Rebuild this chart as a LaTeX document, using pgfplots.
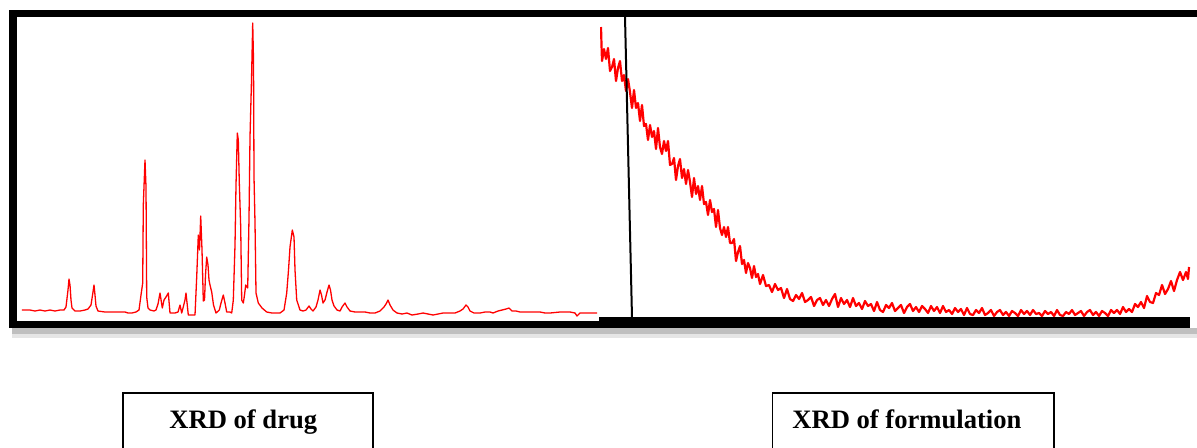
\documentclass[border=0pt]{standalone}
\usepackage{fontspec}
\setmainfont{Liberation Serif}
\usepackage{pgfplots}
\pgfplotsset{compat=1.18}

% drug pattern, read off in picture units (x, y from the top)
\pgfplotstableread{
x y
22 310
30 310
35 311
40 310
45 311
50 310
55 311
60 310
64 310
66 307
68 290
69 279
70 285
71 300
72 308
75 311
80 311
85 310
88 309
91 305
93 292
94 285
95 295
96 306
98 311
105 312
115 312
125 312
128 313
132 313
136 312
139 310
141 295
142.7 283
143.3 205
145 160
146 187
146.7 297
148 308
150 310
154 311
156 310
158 304
160 293
162.3 308
164 300
166 297
168.3 293
170 313
175 313
178 312
180 305
181.7 313
183 308
185 300
186 293
188.3 315
192 315
195 315
196.7 277
198.3 235
199.5 250
200.7 216
202 250
203.3 301
204.5 300
205.5 275
206.7 257
208 265
209 280
210 285
211.7 292
213.5 305
216 313
219.3 310
221 303
223.3 295
225 303
226.7 312
230 312
231.7 313
233.3 300
235 245
236 185
237.3 133
238.3 140
239.3 183
240.7 227
241.7 300
243.3 303
244.5 295
245.7 285
247.7 288
249 218
250 137
251.5 80
252.7 23
253.5 60
254 177
255 223
256 293
258.3 303
262 308
266.7 312
272 313
280 313
284 310
286.7 293
288.5 270
290 247
292.3 230
294 237
295 270
296.7 300
300 310
303 311
306 310
309 306
311 309
313 311
316 307
318 300
320 290
321.5 295
323 303
325 300
327 292
329 285
330.5 290
332 300
334 306
337 310
340 311
342 307
345 303
347 307
350 311
355 312
360 312
365 312
370 313
375 313
380 311
384 307
386 304
388 300
390 305
393 310
397 313
402 314
407 313
412 315
418 314
423 313
428 314
433 315
438 314
443 313
450 313
455 313
460 311
463 309
466 305
468 307
470 311
474 313
480 313
485 312
490 312
493 313
498 311
502 310
506 309
509 308
512 311
516 311
520 312
530 312
540 312
545 313
550 313
560 312
570 312
575 313
577 316
580 313
590 313
597 313
}\drugdata

% formulation pattern, same units
\pgfplotstableread{
x y
601 27
601.5 45
602 61
604 49
606 59
608 48
610 71
612 67
614 59
616 81
618 68
620 61
622 81
624 75
626 91
628 79
630 92
632 108
634 90
636 108
638 103
640 121
642 105
644 126
646 124
648 140
650 125
652 137
654 131
656 149
658 128
660 147
662 154
664 141
666 151
668 141
670 165
672 164
674 158
676 180
678 166
680 159
682 178
684 169
686 184
688 170
690 182
692 197
694 178
696 194
698 186
700 200
702 186
704 204
706 202
708 215
710 200
712 212
714 209
716 227
718 210
720 228
722 235
724 227
726 237
728 227
730 243
732 243
734 239
736 261
738 252
740 246
742 264
744 260
746 273
748 263
750 268
752 278
754 266
756 277
758 274
760 284
763 275
766 286
769 285
772 292
775 284
778 290
781 288
784 298
787 289
790 299
793 301
796 295
799 299
802 293
805 302
808 300
811 297
814 306
817 300
820 298
823 305
826 300
829 306
832 299
835 294
838 307
841 298
844 304
847 300
850 307
853 298
856 306
859 303
862 309
865 301
868 306
871 304
874 311
877 302
880 310
883 312
886 305
889 308
892 303
895 311
898 308
901 305
904 313
907 307
910 304
913 311
916 307
919 312
922 306
925 309
928 313
931 306
934 311
937 307
940 313
943 306
946 312
949 310
952 314
955 308
958 312
961 309
964 315
967 308
970 314
973 315
976 310
979 313
982 308
985 315
988 313
991 310
994 316
997 312
1000 310
1003 315
1006 312
1009 316
1012 311
1015 313
1018 316
1021 310
1024 314
1027 311
1030 315
1033 310
1036 314
1039 313
1042 316
1045 311
1048 314
1051 312
1054 316
1057 310
1060 315
1063 316
1066 312
1069 314
1072 310
1075 315
1078 313
1081 311
1084 316
1087 312
1090 310
1093 315
1096 312
1099 316
1102 311
1105 313
1108 316
1111 310
1114 313
1117 310
1120 314
1123 307
1126 312
1129 309
1132 312
1135 304
1138 307
1141 302
1144 308
1147 296
1150 302
1153 303
1156 293
1159 295
1162 285
1165 294
1168 289
1171 281
1174 291
1177 280
1180 272
1183 280
1186 272
1188 279
1189 267
}\formdata

\begin{document}
\begin{tikzpicture}
  \useasboundingbox (0,0) rectangle (598.5pt,223.5pt);
  \clip (0,0) rectangle (598.5pt,223.5pt);

  % frame and shadow, in picture pixels (y down)
  \begin{scope}[x=0.5pt,y=-0.5pt,shift={(0pt,223.5pt)}]
    \fill[black!10] (12,330) rectangle (1200,338);
    \fill[black!25] (12,328) rectangle (1200,334);
    \fill[black] (9,10) rectangle (1200,17);
    \fill[black] (9,10) rectangle (17,328);
    \fill[black] (9,321) rectangle (601,328);
    \fill[black] (599,317) rectangle (1190,328);
  \end{scope}

  \begin{axis}[
      at={(8.5pt,63pt)}, anchor=south west,
      width=291.5pt, height=152pt, scale only axis,
      xmin=17, xmax=600, ymin=17, ymax=321,
      y dir=reverse, hide axis,
    ]
    \addplot[red, line width=0.65pt, line join=round] table[x=x,y=y]{\drugdata};
  \end{axis}

  \begin{axis}[
      at={(300pt,65pt)}, anchor=south west,
      width=298.5pt, height=150pt, scale only axis,
      xmin=600, xmax=1197, ymin=17, ymax=317,
      y dir=reverse, hide axis,
    ]
    \addplot[red, line width=1.1pt, line join=round] table[x=x,y=y]{\formdata};
  \end{axis}

  \begin{scope}[x=0.5pt,y=-0.5pt,shift={(0pt,223.5pt)}]
    \draw[black, line width=1pt] (625,17) -- (632,318);
    \draw[black, line width=0.8pt] (122.7,460) -- (122.7,392.7) -- (372.7,392.7) -- (372.7,460);
    \draw[black, line width=0.8pt] (772.3,460) -- (772.3,393) -- (1054,393) -- (1054,460);
    \node[anchor=base west, inner sep=0pt, font=\fontsize{13.3}{16}\selectfont\bfseries] at (169,428) {XRD of drug};
    \node[anchor=base west, inner sep=0pt, font=\fontsize{13.3}{16}\selectfont\bfseries] at (792,428) {XRD of formulation};
  \end{scope}
\end{tikzpicture}
\end{document}
